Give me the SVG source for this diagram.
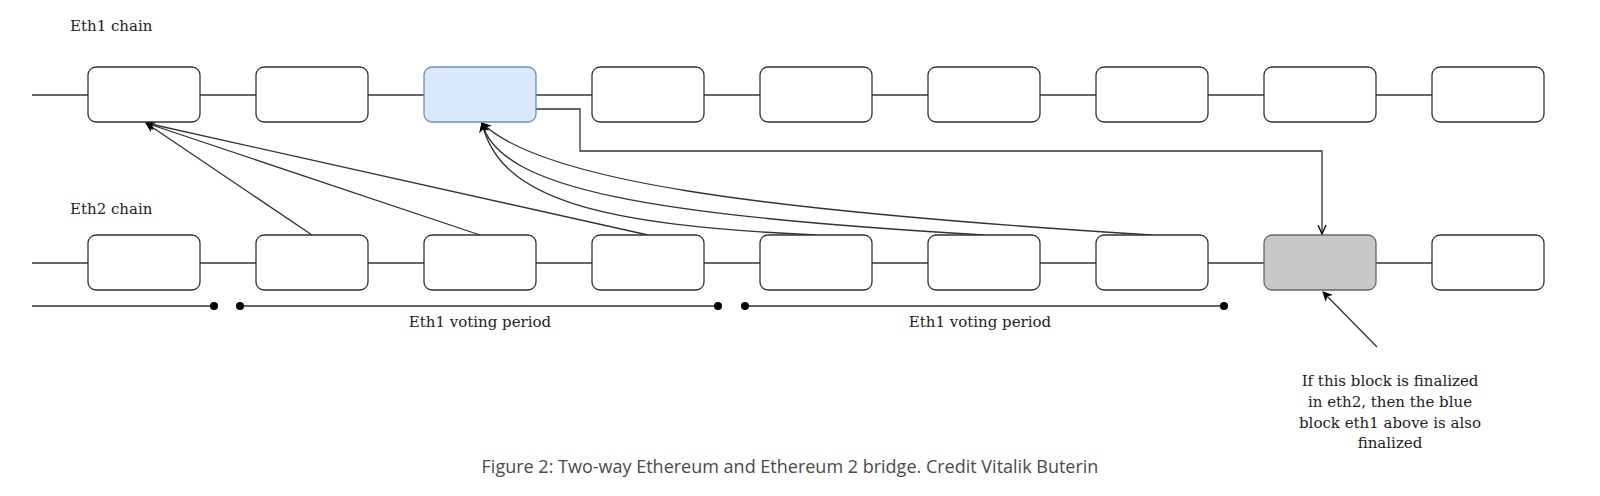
<svg xmlns="http://www.w3.org/2000/svg" width="1600" height="496" viewBox="0 0 1600 496">
<style>
.b{fill:#fff;stroke:#333;stroke-width:1.3}
.l{fill:none;stroke:#333;stroke-width:1.3}
.t{font-family:"DejaVu Serif",serif;font-size:15px;fill:#222}
.c{font-family:"Open Sans",sans-serif;font-size:18px;fill:#4a4a4a}
</style>
<defs>
<marker id="a" viewBox="0 0 10 10" refX="9" refY="5" markerWidth="10" markerHeight="10" markerUnits="userSpaceOnUse" orient="auto"><path d="M0,0L10,5L0,10L3,5Z" fill="#000"/></marker>
<marker id="o" viewBox="0 0 10 10" refX="9" refY="5" markerWidth="10" markerHeight="10" markerUnits="userSpaceOnUse" orient="auto"><path d="M0,1L9,5L0,9" fill="none" stroke="#000" stroke-width="1.3"/></marker>
</defs>
<text class="t" x="70" y="31">Eth1 chain</text>
<text class="t" x="70" y="214">Eth2 chain</text>
<g id="connectors">
<line class="l" x1="32" y1="95" x2="1432" y2="95"/>
<line class="l" x1="32" y1="263" x2="1432" y2="263"/>
<line class="l" x1="32" y1="306" x2="214" y2="306"/>
<line class="l" x1="240" y1="306" x2="718" y2="306"/>
<line class="l" x1="745" y1="306" x2="1224" y2="306"/>
<circle cx="214" cy="306" r="4"/><circle cx="240" cy="306" r="4"/><circle cx="718" cy="306" r="4"/><circle cx="745" cy="306" r="4"/><circle cx="1224" cy="306" r="4"/>
<path class="l" d="M312,235L146,123" marker-end="url(#a)"/>
<path class="l" d="M480,235L146,123" marker-end="url(#a)"/>
<path class="l" d="M648,235L146,123" marker-end="url(#a)"/>
<path class="l" d="M816,235C600,225 500,200 482,123" marker-end="url(#a)"/>
<path class="l" d="M984,235C650,215 500,190 482,123" marker-end="url(#a)"/>
<path class="l" d="M1152,235C750,210 540,180 482,123" marker-end="url(#a)"/>
<path class="l" d="M536,109H580V151H1322V234" marker-end="url(#o)"/>
<path class="l" d="M1377,347L1323,292" marker-end="url(#a)"/>
</g>
<g id="eth1">
<rect class="b" x="88" y="67" width="112" height="55" rx="8"/>
<rect class="b" x="256" y="67" width="112" height="55" rx="8"/>
<rect x="424" y="67" width="112" height="55" rx="8" fill="#dae8fc" stroke="#6c8ebf" stroke-width="1.3"/>
<rect class="b" x="592" y="67" width="112" height="55" rx="8"/>
<rect class="b" x="760" y="67" width="112" height="55" rx="8"/>
<rect class="b" x="928" y="67" width="112" height="55" rx="8"/>
<rect class="b" x="1096" y="67" width="112" height="55" rx="8"/>
<rect class="b" x="1264" y="67" width="112" height="55" rx="8"/>
<rect class="b" x="1432" y="67" width="112" height="55" rx="8"/>
</g>
<g id="eth2">
<rect class="b" x="88" y="235" width="112" height="55" rx="8"/>
<rect class="b" x="256" y="235" width="112" height="55" rx="8"/>
<rect class="b" x="424" y="235" width="112" height="55" rx="8"/>
<rect class="b" x="592" y="235" width="112" height="55" rx="8"/>
<rect class="b" x="760" y="235" width="112" height="55" rx="8"/>
<rect class="b" x="928" y="235" width="112" height="55" rx="8"/>
<rect class="b" x="1096" y="235" width="112" height="55" rx="8"/>
<rect x="1264" y="235" width="112" height="55" rx="8" fill="#c8c8c8" stroke="#666" stroke-width="1.3"/>
<rect class="b" x="1432" y="235" width="112" height="55" rx="8"/>
</g>
<text class="t" x="480" y="327" text-anchor="middle">Eth1 voting period</text>
<text class="t" x="980" y="327" text-anchor="middle">Eth1 voting period</text>
<g id="note" class="t" text-anchor="middle">
<text x="1390" y="386">If this block is finalized</text>
<text x="1390" y="407">in eth2, then the blue</text>
<text x="1390" y="428">block eth1 above is also</text>
<text x="1390" y="448">finalized</text>
</g>
<text class="c" x="790" y="473" text-anchor="middle">Figure 2: Two-way Ethereum and Ethereum 2 bridge. Credit Vitalik Buterin</text>
</svg>
